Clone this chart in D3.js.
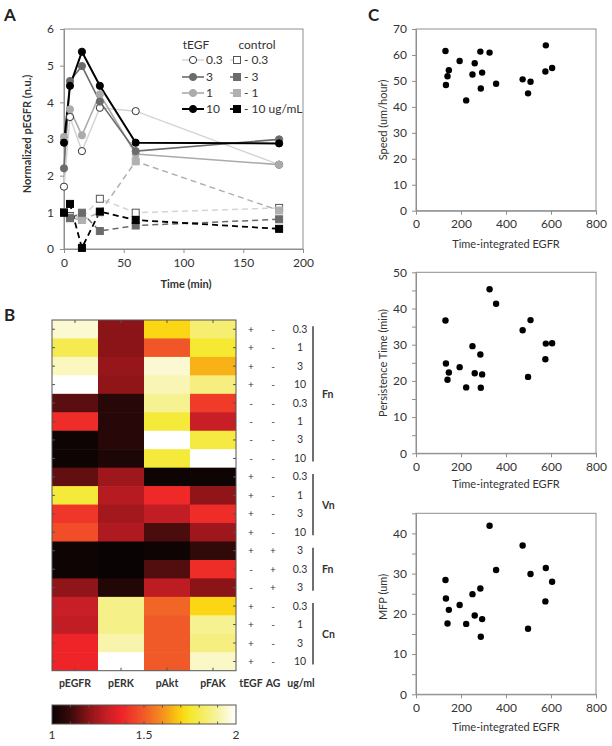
<!DOCTYPE html>
<html><head><meta charset="utf-8">
<script src="https://cdn.jsdelivr.net/npm/d3@7/dist/d3.min.js"></script>
<style>body{margin:0;background:#fff}svg{display:block}</style>
</head><body>
<script>
// ---------- Panel A data ----------
const times = [0, 5, 15, 30, 60, 180];
const timeTicks = [0, 50, 100, 150, 200];
const pegfrTicks = [0, 1, 2, 3, 4, 5, 6];
const tegf03 = [1.7, 3.6, 2.67, 3.85, 3.76, 2.3];
const tegf3  = [2.2, 4.58, 4.99, 4.02, 2.67, 2.99];
const tegf1  = [3.06, 3.81, 3.1, 4.22, 2.59, 2.3];
const tegf10 = [2.9, 4.45, 5.38, 4.45, 2.9, 2.88];
const ctrl03 = [1.0, 0.9, 0.85, 1.37, 0.99, 1.12];
const ctrl3  = [1.0, 0.84, 0.99, 0.49, 0.64, 0.81];
const ctrl1  = [1.0, 0.86, 0.79, 1.0, 2.39, 1.05];
const ctrl10 = [0.99, 1.23, 0.03, 1.02, 0.79, 0.55];
const legendDoses = ["0.3", "3", "1", "10"];
const legendCtrlLabels = ["- 0.3", "- 3", "- 1", "- 10 ug/mL"];

// ---------- Panel B data ----------
const heatCols = ["pEGFR", "pERK", "pAkt", "pFAK"];
const heatEGFR = [1.95, 1.8, 1.93, 2.0, 1.14, 1.4, 1.01, 1.01, 1.15, 1.77, 1.42, 1.47, 1.01, 1.01, 1.21, 1.3, 1.29, 1.38, 1.38];
const heatERK  = [1.2, 1.2, 1.22, 1.21, 1.06, 1.06, 1.06, 1.04, 1.23, 1.27, 1.24, 1.26, 1.0, 1.0, 1.05, 1.87, 1.87, 1.91, 2.0];
const heatAkt  = [1.71, 1.49, 1.95, 1.92, 1.88, 1.77, 2.0, 1.77, 1.01, 1.39, 1.29, 1.12, 1.01, 1.13, 1.28, 1.52, 1.5, 1.5, 1.5];
const heatFAK  = [1.84, 1.76, 1.65, 1.86, 1.43, 1.3, 1.78, 2.0, 1.01, 1.21, 1.4, 1.23, 1.08, 1.4, 1.2, 1.71, 1.88, 1.86, 1.94];
const rowTEGF = ["+", "+", "+", "+", "-", "-", "-", "-", "+", "+", "+", "+", "+", "-", "-", "+", "+", "+", "+"];
const rowAG   = ["-", "-", "-", "-", "-", "-", "-", "-", "-", "-", "-", "-", "+", "+", "+", "-", "-", "-", "-"];
const rowConc = ["0.3", "1", "3", "10", "0.3", "1", "3", "10", "0.3", "1", "3", "10", "3", "0.3", "3", "0.3", "1", "3", "10"];
const groupNames = ["Fn", "Vn", "Fn", "Cn"];
const groupStart = [0, 8, 12, 15];
const groupEnd   = [7, 11, 14, 18];
const annotHeaders = ["tEGF", "AG", "ug/ml"];
const cbarTickLabels = [1, 1.5, 2];

// ---------- Panel C data ----------
const egfrInt     = [131, 133, 140, 146, 194, 223, 251, 261, 286, 288, 294, 327, 356, 474, 498, 509, 577, 575, 605];
const speed       = [61.5, 48.4, 51.8, 54.1, 57.7, 42.5, 52.5, 56.8, 61.3, 47.1, 53.2, 60.9, 48.9, 50.6, 45.2, 49.7, 63.7, 53.6, 55.0];
const persistence = [36.7, 24.8, 20.3, 22.3, 23.8, 18.2, 29.6, 22.1, 27.3, 18.1, 21.8, 45.3, 41.3, 34.0, 21.1, 36.8, 30.3, 26.0, 30.4];
const mfp         = [28.4, 23.8, 17.6, 21.0, 22.2, 17.5, 24.9, 19.6, 26.3, 14.3, 18.7, 41.9, 30.9, 37.0, 16.3, 29.9, 31.4, 23.1, 28.0];
const egfrTicks = [0, 200, 400, 600, 800];
const speedTicks = [0, 10, 20, 30, 40, 50, 60, 70];
const persistTicks = [0, 5, 10, 15, 20, 25, 30, 35, 40, 45, 50];
const mfpTicks = [0, 5, 10, 15, 20, 25, 30, 35, 40, 45];

// ---------- drawing ----------
const FONT = 'Lato, "Open Sans", "DejaVu Sans", sans-serif';
const TXT = "#333";
const GRAY = "#8f8f8f";
const svg = d3.select("body").append("svg").attr("width", 612).attr("height", 746)
  .style("font-family", FONT);

function styleAxis(g, size) {
  g.select(".domain").attr("stroke", GRAY);
  g.selectAll(".tick line").attr("stroke", GRAY);
  g.selectAll(".tick text").attr("fill", TXT).style("font-size", (size || 12) + "px").style("font-family", FONT);
}
const intFmt = d3.format("d");

// panel letters
[["A", 4, 21], ["B", 4, 321], ["C", 368, 21]].forEach(([t, x, y]) =>
  svg.append("text").attr("x", x).attr("y", y).text(t)
    .style("font-size", "17px").style("font-weight", "bold").attr("fill", "#222"));

// ===== Panel A =====
const xA = d3.scaleLinear().domain([0, 200]).range([64, 303]);
const yA = d3.scaleLinear().domain([0, 6]).range([249, 29]);
const gA = svg.append("g");
gA.append("rect").attr("x", xA(0)).attr("y", yA(6)).attr("width", xA(200) - xA(0)).attr("height", yA(0) - yA(6))
  .attr("fill", "none").attr("stroke", GRAY);
gA.append("g").attr("transform", `translate(0,${yA(0)})`)
  .call(d3.axisBottom(xA).tickValues(timeTicks).tickFormat(intFmt).tickSize(4).tickSizeOuter(0).tickPadding(5)).call(styleAxis);
gA.append("g").attr("transform", `translate(${xA(0)},0)`)
  .call(d3.axisLeft(yA).tickValues(pegfrTicks).tickFormat(intFmt).tickSize(4).tickSizeOuter(0).tickPadding(6)).call(styleAxis);
gA.append("text").attr("x", 186).attr("y", 288).attr("text-anchor", "middle").text("Time (min)")
  .style("font-size", "11px").style("font-weight", "bold").attr("fill", TXT);
gA.append("text").attr("transform", "translate(31,134) rotate(-90)").attr("text-anchor", "middle")
  .text("Normalized pEGFR (n.u.)").style("font-size", "11px").style("font-weight", "bold").attr("fill", TXT);

const seriesA = [
  { v: ctrl03, line: "#d4d4d4", dash: true, shape: "sq", fill: "#fff", stroke: "#555", w: 1.5 },
  { v: ctrl1, line: "#b0b0b0", dash: true, shape: "sq", fill: "#b0b0b0", stroke: "#b0b0b0", w: 1.5 },
  { v: ctrl3, line: "#6b6b6b", dash: true, shape: "sq", fill: "#6b6b6b", stroke: "#6b6b6b", w: 1.5 },
  { v: ctrl10, line: "#000", dash: true, shape: "sq", fill: "#000", stroke: "#000", w: 1.8 },
  { v: tegf03, line: "#d4d4d4", dash: false, shape: "ci", fill: "#fff", stroke: "#333", w: 1.5 },
  { v: tegf1, line: "#ababab", dash: false, shape: "ci", fill: "#ababab", stroke: "#ababab", w: 1.6 },
  { v: tegf3, line: "#6b6b6b", dash: false, shape: "ci", fill: "#6b6b6b", stroke: "#6b6b6b", w: 1.6 },
  { v: tegf10, line: "#000", dash: false, shape: "ci", fill: "#000", stroke: "#000", w: 2 }
];
const lineA = d3.line().x((d, i) => xA(times[i])).y(d => yA(d));
function marker(g, shape, cx, cy, fill, stroke) {
  if (shape === "ci") g.append("circle").attr("cx", cx).attr("cy", cy).attr("r", 3.6).attr("fill", fill).attr("stroke", stroke).attr("stroke-width", 1);
  else g.append("rect").attr("x", cx - 3.5).attr("y", cy - 3.5).attr("width", 7).attr("height", 7).attr("fill", fill).attr("stroke", stroke).attr("stroke-width", 1);
}
seriesA.forEach(s => {
  gA.append("path").attr("d", lineA(s.v)).attr("fill", "none").attr("stroke", s.line)
    .attr("stroke-width", s.w).attr("stroke-dasharray", s.dash ? "6,4" : null);
});
seriesA.forEach(s => {
  s.v.forEach((d, i) => marker(gA, s.shape, xA(times[i]), yA(d), s.fill, s.stroke));
});

// legend
const legY = [60, 77, 93, 109];
const tegfLeg = [seriesA[4], seriesA[6], seriesA[5], seriesA[7]];
const ctrlLeg = [seriesA[0], seriesA[2], seriesA[1], seriesA[3]];
gA.append("text").attr("x", 196).attr("y", 49).attr("text-anchor", "middle").text("tEGF").style("font-size", "12px").attr("fill", TXT);
gA.append("text").attr("x", 257).attr("y", 49).attr("text-anchor", "middle").text("control").style("font-size", "12px").attr("fill", TXT);
legY.forEach((y, i) => {
  const s = tegfLeg[i];
  gA.append("line").attr("x1", 182).attr("x2", 204).attr("y1", y).attr("y2", y).attr("stroke", s.line).attr("stroke-width", s.w);
  marker(gA, s.shape, 193, y, s.fill, s.stroke);
  gA.append("text").attr("x", 206).attr("y", y + 4).text(legendDoses[i]).style("font-size", "12px").attr("fill", TXT);
  const c = ctrlLeg[i];
  gA.append("line").attr("x1", 230).attr("x2", 240).attr("y1", y).attr("y2", y).attr("stroke", c.line).attr("stroke-width", c.w);
  marker(gA, c.shape, 237, y, c.fill, c.stroke);
  gA.append("text").attr("x", 244).attr("y", y + 4).text(legendCtrlLabels[i]).style("font-size", "12px").attr("fill", TXT);
});

// ===== Panel B =====
const hotScale = d3.scaleLinear()
  .domain([1, 1.1, 1.2, 1.3, 1.375, 1.5, 1.6, 1.7, 1.75, 1.875, 2])
  .range(["#0a0303", "#3a0a0a", "#8a1418", "#c81e25", "#ee2228", "#f05a28", "#f5901f", "#fbd20f", "#f5e82a", "#f6f08c", "#ffffff"])
  .clamp(true);
const hx = d3.scaleBand().domain(heatCols).range([52, 236]);
const hy = d3.scaleBand().domain(d3.range(rowConc.length)).range([320, 670.7]);
const gB = svg.append("g");
const heatVals = [heatEGFR, heatERK, heatAkt, heatFAK];
heatCols.forEach((c, ci) => {
  heatVals[ci].forEach((v, ri) => {
    gB.append("rect").attr("x", hx(c)).attr("y", hy(ri))
      .attr("width", hx.bandwidth() + (ci < 3 ? 0.6 : 0)).attr("height", hy.bandwidth() + (ri < 18 ? 0.6 : 0))
      .attr("fill", hotScale(v));
  });
});
gB.append("rect").attr("x", 52).attr("y", 320).attr("width", 184).attr("height", 350.7)
  .attr("fill", "none").attr("stroke", "#555").attr("stroke-width", 1);
// inward ticks
heatCols.forEach(c => {
  const cx = hx(c) + hx.bandwidth() / 2;
  gB.append("line").attr("x1", cx).attr("x2", cx).attr("y1", 320).attr("y2", 323).attr("stroke", "#555");
  gB.append("line").attr("x1", cx).attr("x2", cx).attr("y1", 670.7).attr("y2", 667.7).attr("stroke", "#555");
  gB.append("text").attr("x", cx).attr("y", 687).attr("text-anchor", "middle").text(c)
    .style("font-size", "10.5px").style("font-weight", "bold").attr("fill", TXT);
});
rowConc.forEach((r, ri) => {
  const cy = hy(ri) + hy.bandwidth() / 2;
  gB.append("line").attr("x1", 52).attr("x2", 55).attr("y1", cy).attr("y2", cy).attr("stroke", "#555");
  gB.append("line").attr("x1", 236).attr("x2", 233).attr("y1", cy).attr("y2", cy).attr("stroke", "#555");
  gB.append("text").attr("x", 251).attr("y", cy + 3.5).attr("text-anchor", "middle").text(rowTEGF[ri]).style("font-size", "10px").attr("fill", TXT);
  gB.append("text").attr("x", 273).attr("y", cy + 3.5).attr("text-anchor", "middle").text(rowAG[ri]).style("font-size", "10px").attr("fill", TXT);
  gB.append("text").attr("x", 300).attr("y", cy + 3.5).attr("text-anchor", "middle").text(r).style("font-size", "10.5px").attr("fill", TXT);
});
[251, 273, 301].forEach((x, i) =>
  gB.append("text").attr("x", x).attr("y", 687).attr("text-anchor", "middle").text(annotHeaders[i])
    .style("font-size", "10.5px").style("font-weight", "bold").attr("fill", TXT));
groupNames.forEach((g, gi) => {
  const y1 = hy(groupStart[gi]) + hy.bandwidth() / 2 - 3;
  const y2 = hy(groupEnd[gi]) + hy.bandwidth() / 2 + 3;
  gB.append("line").attr("x1", 313).attr("x2", 313).attr("y1", y1).attr("y2", y2).attr("stroke", "#333").attr("stroke-width", 1.4);
  gB.append("text").attr("x", 322).attr("y", (y1 + y2) / 2 + 4).text(g)
    .style("font-size", "10.5px").style("font-weight", "bold").attr("fill", TXT);
});

// colorbar
const cbx = d3.scaleLinear().domain([1, 2]).range([52, 236]);
const defs = svg.append("defs");
const grad = defs.append("linearGradient").attr("id", "hotgrad").attr("x1", "0%").attr("x2", "100%");
d3.range(0, 1.0001, 0.02).forEach(t => grad.append("stop").attr("offset", (t * 100) + "%").attr("stop-color", hotScale(1 + t)));
gB.append("rect").attr("x", cbx(1)).attr("y", 705).attr("width", cbx(2) - cbx(1)).attr("height", 19)
  .attr("fill", "url(#hotgrad)").attr("stroke", "#555");
d3.range(1.1, 1.95, 0.1).forEach(v => {
  gB.append("line").attr("x1", cbx(v)).attr("x2", cbx(v)).attr("y1", 705).attr("y2", 707.5).attr("stroke", "#555");
  gB.append("line").attr("x1", cbx(v)).attr("x2", cbx(v)).attr("y1", 724).attr("y2", 721.5).attr("stroke", "#555");
});
cbarTickLabels.forEach(v =>
  gB.append("text").attr("x", cbx(v)).attr("y", 739).attr("text-anchor", "middle").text(v)
    .style("font-size", "12px").attr("fill", TXT));

// ===== Panel C =====
const xC = d3.scaleLinear().domain([0, 800]).range([416, 596]);
function scatter(vals, ymax, top, bot, ticks, labelStep, title, titleCY, xTitleY) {
  const y = d3.scaleLinear().domain([0, ymax]).range([bot, top]);
  const g = svg.append("g");
  g.append("rect").attr("x", 416).attr("y", top).attr("width", 180).attr("height", bot - top)
    .attr("fill", "none").attr("stroke", GRAY);
  g.append("g").attr("transform", `translate(0,${bot})`)
    .call(d3.axisBottom(xC).tickValues(egfrTicks).tickFormat(intFmt).tickSize(4).tickSizeOuter(0).tickPadding(5)).call(styleAxis);
  g.append("g").attr("transform", "translate(416,0)")
    .call(d3.axisLeft(y).tickValues(ticks).tickSize(4).tickSizeOuter(0).tickPadding(5)
      .tickFormat(d => (d % labelStep === 0 ? intFmt(d) : ""))).call(styleAxis);
  g.append("text").attr("x", 506).attr("y", xTitleY).attr("text-anchor", "middle").text("Time-integrated EGFR")
    .style("font-size", "11px").attr("fill", TXT);
  g.append("text").attr("transform", `translate(387,${titleCY}) rotate(-90)`).attr("text-anchor", "middle")
    .text(title).style("font-size", "11px").attr("fill", TXT);
  vals.forEach((v, i) => g.append("circle").attr("cx", xC(egfrInt[i])).attr("cy", y(v)).attr("r", 3.2).attr("fill", "#000"));
}
scatter(speed, 70, 29, 210.7, speedTicks, 10, "Speed (um/hour)", 120, 248);
scatter(persistence, 50, 272.3, 453.3, persistTicks, 10, "Persistence Time  (min)", 363, 488);
scatter(mfp, 45, 513.3, 694.3, mfpTicks, 10, "MFP (um)", 597, 731);
</script>
</body></html>
